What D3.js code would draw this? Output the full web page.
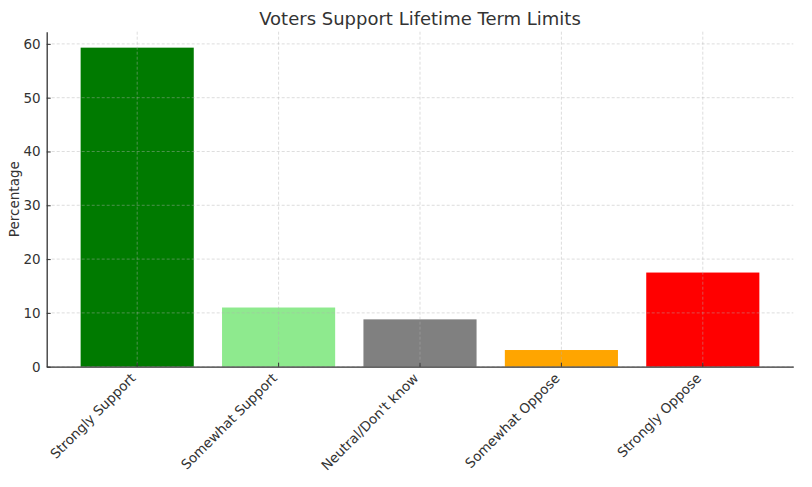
<!DOCTYPE html>
<html>
<head>
<meta charset="utf-8">
<script src="https://cdn.jsdelivr.net/npm/d3@7"></script>
<style>
  body { margin: 0; background: #fff; }
  svg { font-family: "DejaVu Sans", sans-serif; }
</style>
</head>
<body>
<svg width="812" height="487"></svg>
<script>
var categories = ["Strongly Support", "Somewhat Support", "Neutral/Don't know", "Somewhat Oppose", "Strongly Oppose"];
var values = [59.3, 11.0, 8.8, 3.1, 17.5];
var colors = ["#007a00", "#8eea8e", "#808080", "#ffa500", "#ff0000"];
var yTicks = [0, 10, 20, 30, 40, 50, 60];

var svg = d3.select("svg"),
  margin = { top: 31.7, right: 18.7, bottom: 120.3, left: 46.7 },
  width = 812 - margin.left - margin.right,
  height = 487 - margin.top - margin.bottom;

var xScale = d3.scaleBand().domain(categories).range([0, width])
  .paddingInner(0.2).paddingOuter(0.24);
var yScale = d3.scaleLinear().domain([0, d3.max(values) * 1.05]).range([height, 0]);

var g = svg.append("g")
  .attr("transform", "translate(" + margin.left + "," + margin.top + ")");

// bars
g.selectAll("rect")
  .data(values)
  .enter()
  .append("rect")
  .attr("x", function (d, i) { return xScale(categories[i]); })
  .attr("y", function (d) { return yScale(d); })
  .attr("width", xScale.bandwidth())
  .attr("height", function (d) { return height - yScale(d); })
  .style("fill", function (d, i) { return colors[i]; });

// grid (drawn over the bars, like the original)
g.append("g")
  .selectAll("line")
  .data(yTicks)
  .enter()
  .append("line")
  .attr("x1", 0).attr("x2", width)
  .attr("y1", function (d) { return yScale(d); })
  .attr("y2", function (d) { return yScale(d); })
  .style("stroke", "#b0b0b0").style("stroke-opacity", 0.55)
  .style("stroke-dasharray", "3,2").style("stroke-width", 0.8);

g.append("g")
  .selectAll("line")
  .data(categories)
  .enter()
  .append("line")
  .attr("x1", function (d) { return xScale(d) + xScale.bandwidth() / 2; })
  .attr("x2", function (d) { return xScale(d) + xScale.bandwidth() / 2; })
  .attr("y1", 0).attr("y2", height)
  .style("stroke", "#b0b0b0").style("stroke-opacity", 0.55)
  .style("stroke-dasharray", "3,2").style("stroke-width", 0.8);

// axes
var xAxis = g.append("g")
  .attr("transform", "translate(0," + height + ")")
  .call(d3.axisBottom(xScale).tickSizeInner(-4).tickSizeOuter(0).tickPadding(6));

xAxis.selectAll("text")
  .attr("text-anchor", "end")
  .attr("dy", "0.35em")
  .attr("transform", "translate(-4,9) rotate(-45)")
  .attr("x", 0)
  .attr("y", 0);

var yAxis = g.append("g")
  .call(d3.axisLeft(yScale).tickValues(yTicks).tickSizeInner(-4).tickSizeOuter(0).tickPadding(6));

svg.selectAll(".domain").style("stroke", "#333").style("stroke-width", 1.3);
svg.selectAll(".tick line").style("stroke", "#333").style("stroke-width", 1);
svg.selectAll(".tick text").style("fill", "#333").style("font-size", "13.5px")
  .style("font-family", "DejaVu Sans");

// Title
svg.append("text")
  .attr("x", margin.left + width / 2)
  .attr("y", 25)
  .attr("text-anchor", "middle")
  .style("font-size", "18px")
  .style("fill", "#333")
  .text("Voters Support Lifetime Term Limits");

// Y label
svg.append("text")
  .attr("text-anchor", "middle")
  .attr("transform", "translate(19," + (margin.top + height / 2) + ")rotate(-90)")
  .style("font-size", "13.5px")
  .style("fill", "#333")
  .text("Percentage");
</script>
</body>
</html>
